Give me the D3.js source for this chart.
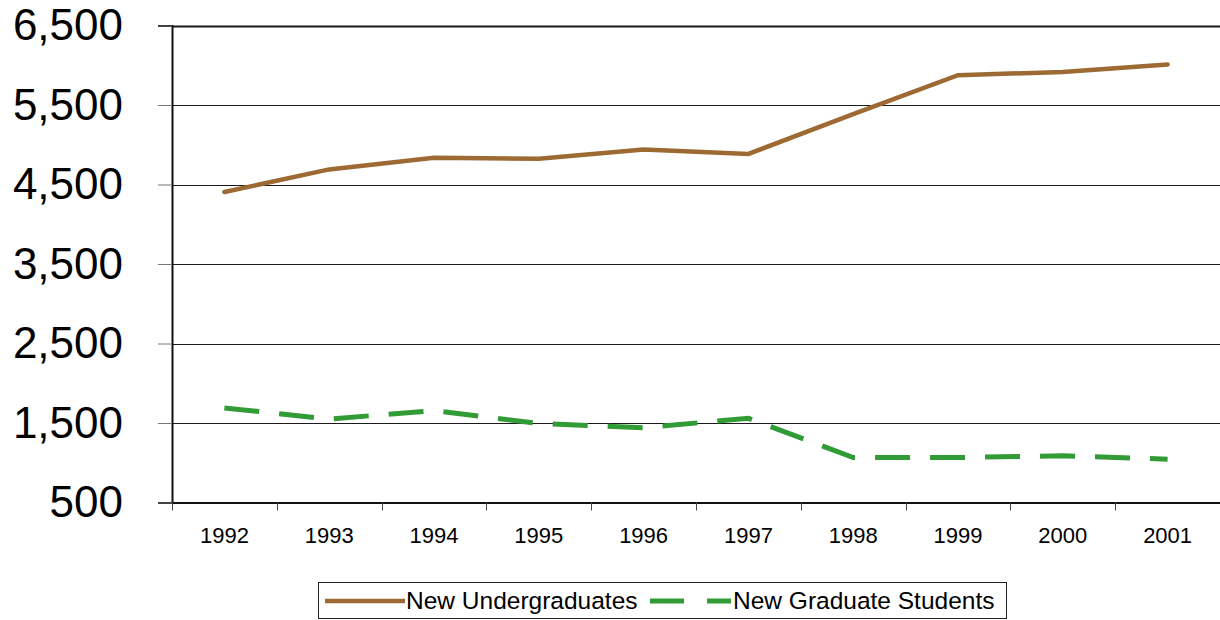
<html>
<head>
<script src="https://d3js.org/d3.v7.min.js"></script>
<style>
  body { margin: 0; background: #fff; }
  text { font-family: "Liberation Sans", Arial, sans-serif; }
</style>
</head>
<body>
<script type="text/javascript">

// values
var years = ["1992", "1993", "1994", "1995", "1996", "1997", "1998", "1999", "2000", "2001"];
var undergrad = [4405, 4690, 4835, 4825, 4940, 4885, 5385, 5875, 5915, 6010];
var grad = [1690, 1550, 1655, 1495, 1440, 1560, 1065, 1065, 1088, 1045];
var yTicks = [500, 1500, 2500, 3500, 4500, 5500, 6500];
var seriesNames = ["New Undergraduates", "New Graduate Students"];

var width = 1220, height = 620;
var plotLeft = 172, plotRight = 1220, plotTop = 25.5, plotBottom = 502.5;

var svg = d3.select("body").append("svg")
  .attr("width", width)
  .attr("height", height);

var x = d3.scaleBand().domain(years).range([plotLeft, plotRight]).padding(0);
var y = d3.scaleLinear().domain([500, 6500]).range([plotBottom, plotTop]);

// horizontal grid lines
svg.append("g").selectAll("line")
  .data(yTicks)
  .enter().append("line")
  .attr("x1", plotLeft).attr("x2", plotRight)
  .attr("y1", function(d) { return Math.round(y(d)) + 0.5; })
  .attr("y2", function(d) { return Math.round(y(d)) + 0.5; })
  .attr("stroke", "#1a1a1a")
  .attr("stroke-width", function(d) { return d == 6500 ? 2 : 1; });

// y axis
var yAxis = svg.append("g")
  .attr("transform", "translate(" + plotLeft + ",0)")
  .call(d3.axisLeft(y).tickValues(yTicks).tickFormat(d3.format(",")).tickSize(14).tickPadding(35));
yAxis.select(".domain").attr("stroke", "#111").attr("stroke-width", 2);
yAxis.selectAll(".tick line").attr("stroke", "#777");
yAxis.selectAll("text")
  .attr("font-size", "44px")
  .attr("fill", "#000")
  .style("font-family", "'Liberation Sans', Arial, sans-serif");

// x axis - labels centred in each band, ticks on band edges
var xAxis = svg.append("g")
  .attr("transform", "translate(0," + plotBottom + ")")
  .call(d3.axisBottom(x).tickSize(0).tickPadding(25));
xAxis.select(".domain").attr("stroke", "#111").attr("stroke-width", 2);
xAxis.selectAll("text")
  .attr("font-size", "22px")
  .attr("fill", "#000")
  .style("font-family", "'Liberation Sans', Arial, sans-serif");

var edges = years.map(function(d) { return x(d); }).concat([plotRight]);
svg.append("g").selectAll("line")
  .data(edges)
  .enter().append("line")
  .attr("x1", function(d) { return Math.round(d) + 0.5; })
  .attr("x2", function(d) { return Math.round(d) + 0.5; })
  .attr("y1", plotBottom)
  .attr("y2", plotBottom + 8)
  .attr("stroke", "#444");

var line = d3.line()
  .x(function(d, i) { return x(years[i]) + x.bandwidth() / 2; })
  .y(function(d) { return y(d); });

// undergraduates
svg.append("path")
  .datum(undergrad)
  .attr("d", line)
  .attr("fill", "none")
  .attr("stroke", "#9e6a33")
  .attr("stroke-width", 4.5)
  .attr("stroke-linecap", "round");

// graduate students
svg.append("path")
  .datum(grad)
  .attr("d", line)
  .attr("fill", "none")
  .attr("stroke", "#319b36")
  .attr("stroke-width", 5)
  .attr("stroke-dasharray", "35,20");

// legend
var legend = svg.append("g");
legend.append("rect")
  .attr("x", 318.5).attr("y", 582.5)
  .attr("width", 688).attr("height", 36)
  .attr("fill", "#fff")
  .attr("stroke", "#222");

legend.append("line")
  .attr("x1", 325).attr("x2", 405)
  .attr("y1", 601).attr("y2", 601)
  .attr("stroke", "#9e6a33").attr("stroke-width", 4.5);
legend.append("text")
  .attr("x", 406).attr("y", 609)
  .attr("font-size", "24.5px")
  .text(seriesNames[0]);

legend.append("line")
  .attr("x1", 650).attr("x2", 731)
  .attr("y1", 601).attr("y2", 601)
  .attr("stroke", "#319b36").attr("stroke-width", 5)
  .attr("stroke-dasharray", "34,23");
legend.append("text")
  .attr("x", 733).attr("y", 609)
  .attr("font-size", "24.5px")
  .text(seriesNames[1]);

</script>
</body>
</html>
